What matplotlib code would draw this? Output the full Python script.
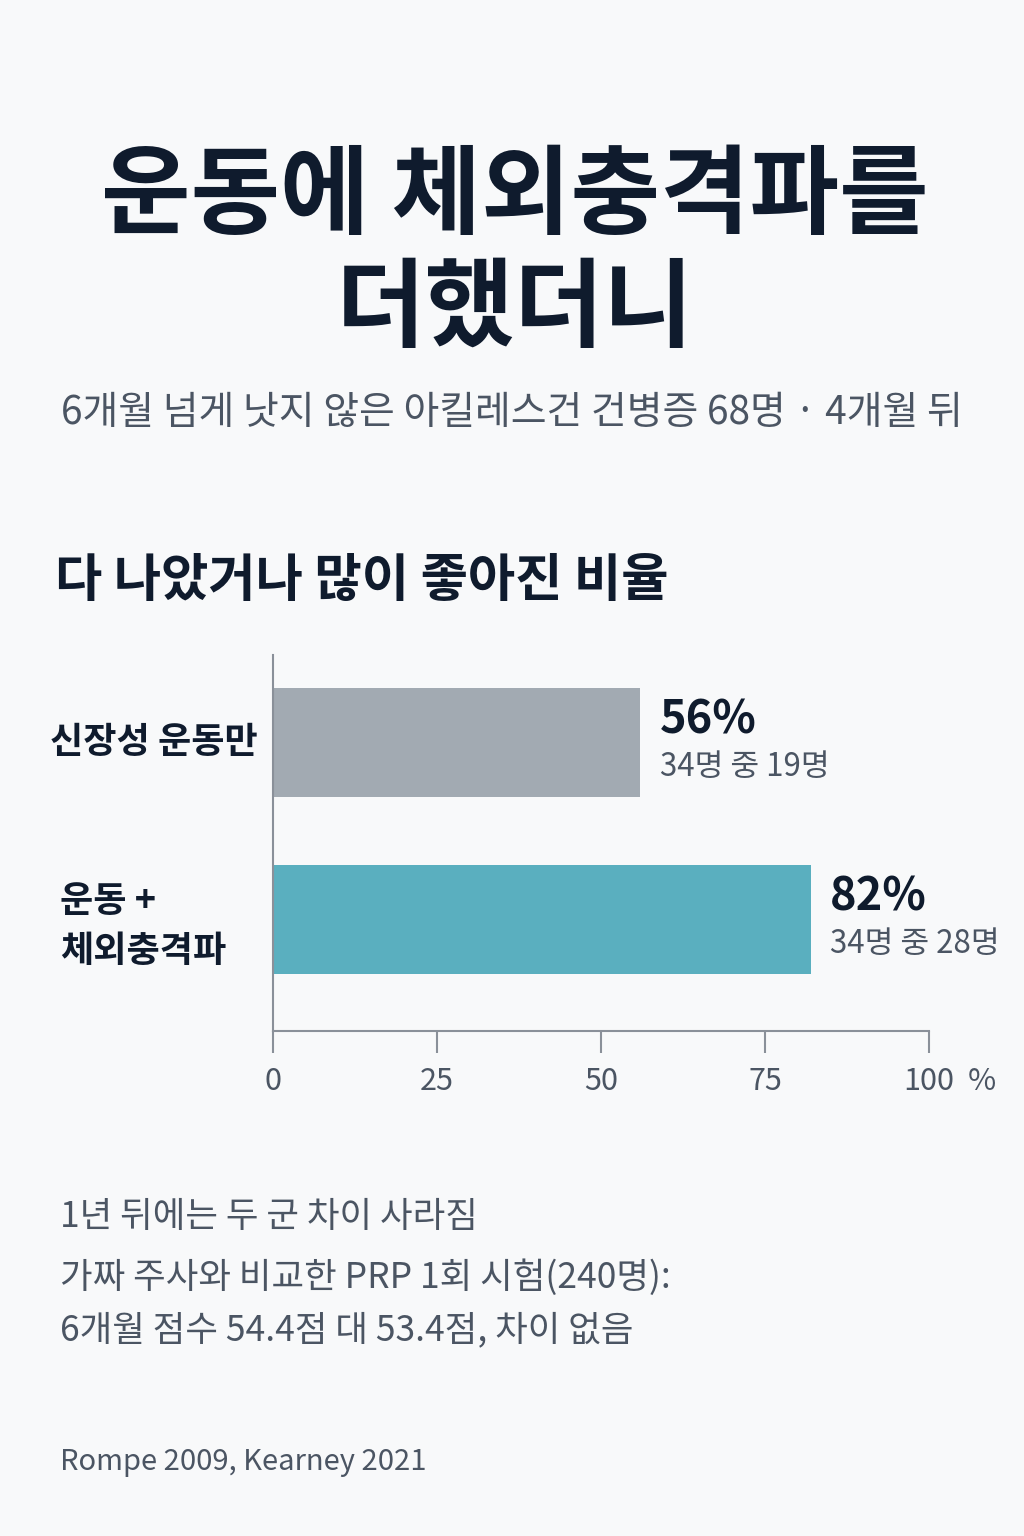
import matplotlib
matplotlib.use("Agg")
import matplotlib.pyplot as plt
import matplotlib.transforms as mtransforms

plt.rcParams['font.family'] = ['Noto Sans CJK KR', 'DejaVu Sans']

# data
groups = ['신장성 운동만', '운동 +\n체외충격파']
pct = [56, 82]
counts = ['34명 중 19명', '34명 중 28명']
xticks = [0, 25, 50, 75, 100]

title = '운동에 체외충격파를\n더했더니'
subtitle = '6개월 넘게 낫지 않은 아킬레스건 건병증 68명 · 4개월 뒤'
heading = '다 나았거나 많이 좋아진 비율'
notes = ['1년 뒤에는 두 군 차이 사라짐',
         '가짜 주사와 비교한 PRP 1회 시험(240명):',
         '6개월 점수 54.4점 대 53.4점, 차이 없음']
source = 'Rompe 2009, Kearney 2021'

W, H = 1024, 1536
BG = '#f8f9fa'
DARK = '#0f1b2d'
GRAY = '#4b5563'
bar_colors = ['#a2aab2', '#5aafbf']

fig = plt.figure(figsize=(W / 100, H / 100), dpi=100, facecolor=BG)


def ftext(x, y, s, **kw):
    # x, y in pixels from top-left
    return fig.text(x / W, 1 - y / H, s, **kw)


ftext(515, 254, title, ha='center', va='center', fontsize=70,
      fontweight='heavy', color=DARK, linespacing=1.17)
ftext(512, 413, subtitle, ha='center', va='center', fontsize=28,
      color=GRAY)
ftext(55, 580, heading, ha='left', va='center', fontsize=37,
      fontweight='bold', color=DARK)

ax = fig.add_axes([273 / W, 1 - 1031 / H, 656 / W, 376 / H])
ax.set_facecolor(BG)
ypos = list(range(len(pct)))
ax.barh(ypos, pct, height=0.616, color=bar_colors)
ax.set_xlim(0, 100)
ax.set_ylim(1.63, -0.494)

for s in ['top', 'right']:
    ax.spines[s].set_visible(False)
for s in ['left', 'bottom']:
    ax.spines[s].set_color('#8a9099')
    ax.spines[s].set_linewidth(1.5)
ax.set_yticks([])
ax.set_xticks(xticks)
ax.set_xticklabels([str(t) for t in xticks])
ax.tick_params(axis='x', direction='out', length=16, width=1.5,
               color='#8a9099', labelsize=22, labelcolor=GRAY, pad=9)
ax.text(1.08, -0.133, '%', transform=ax.transAxes, ha='center', va='center',
        fontsize=22, color=GRAY)

lbl_tr = mtransforms.blended_transform_factory(fig.transFigure, ax.transData)
label_x = [50, 60]
label_dy = [0.0, 0.04]
for i, (g, v, c) in enumerate(zip(groups, pct, counts)):
    ax.text(label_x[i] / W, i + label_dy[i], g, transform=lbl_tr, ha='left',
            va='center', fontsize=26, fontweight='bold', color=DARK,
            linespacing=1.45)
    ax.annotate(f'{v}%', xy=(v, i), xytext=(14, 16), textcoords='offset points',
                ha='left', va='center', fontsize=32.5, fontweight='bold',
                color=DARK)
    ax.annotate(c, xy=(v, i), xytext=(14, -18), textcoords='offset points',
                ha='left', va='center', fontsize=22.5, color=GRAY)

note_y = [1217, 1278, 1330]
for y, s in zip(note_y, notes):
    ftext(60, y, s, ha='left', va='center', fontsize=25.5, color=GRAY)
ftext(60, 1462, source, ha='left', va='center', fontsize=21, color=GRAY)

fig.savefig('out.png', dpi=100, facecolor=BG)
